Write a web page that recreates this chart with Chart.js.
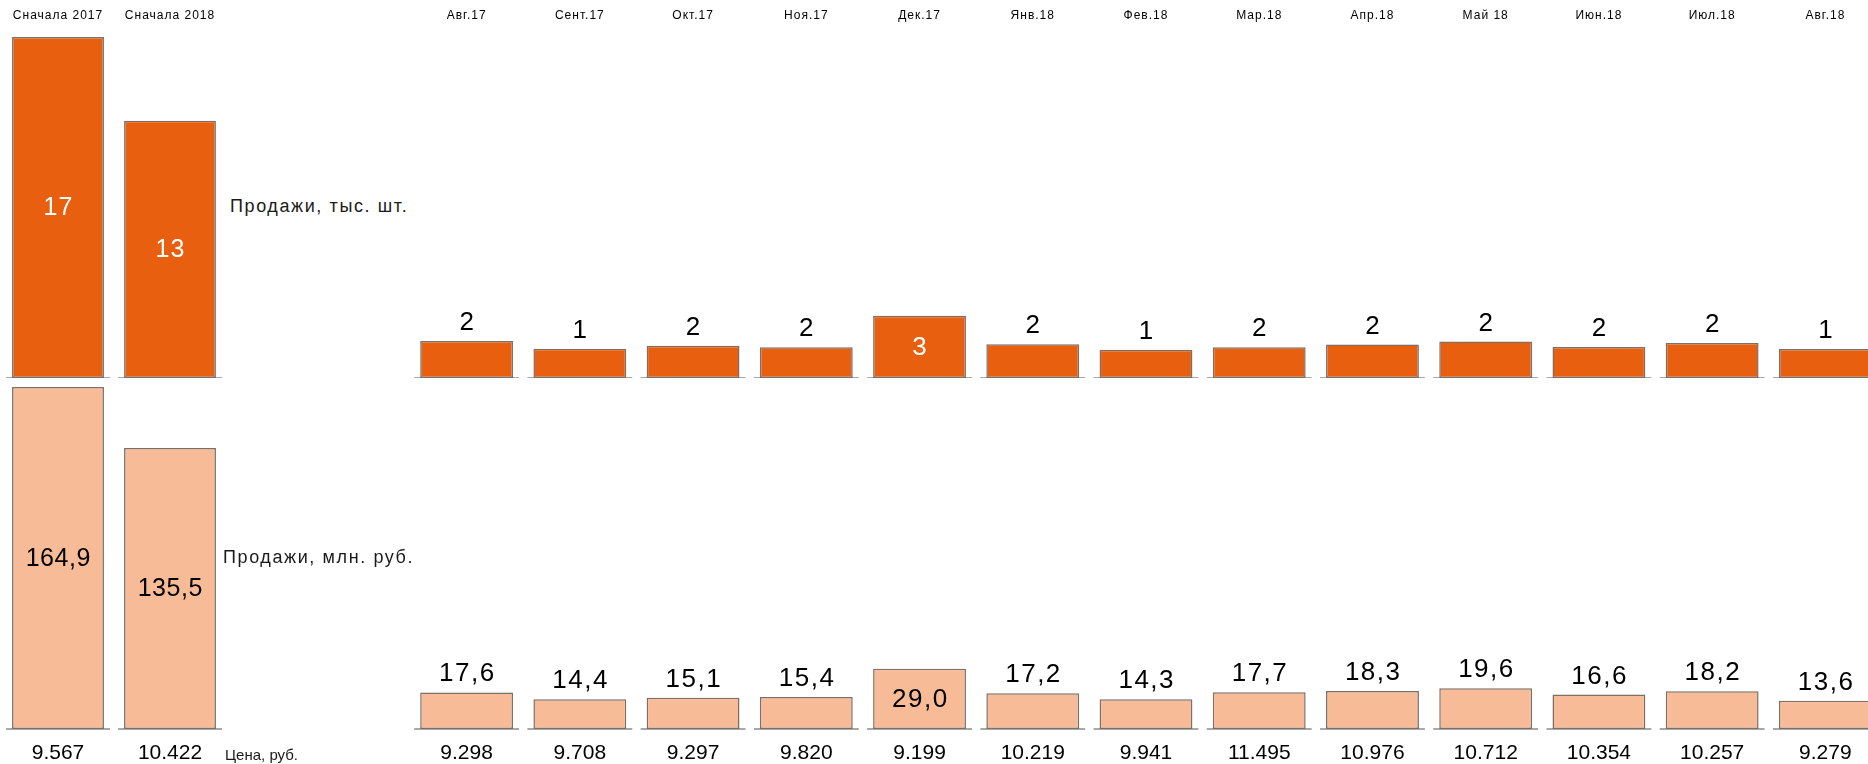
<!DOCTYPE html>
<html lang="ru">
<head>
<meta charset="UTF-8">
<title>Продажи</title>
<script src="https://cdn.jsdelivr.net/npm/chart.js"></script>
<style>
    body {
        margin: 0;
        width: 1868px;
        height: 764px;
        overflow: hidden;
        position: relative;
        background: #fff;
        font-family: 'Liberation Sans', Arial, sans-serif;
        color: #1a1a1a;
    }
    .panel { position: absolute; }
    .side {
        position: absolute;
        white-space: nowrap;
        font-size: 18px;
        letter-spacing: 1.6px;
        line-height: 20px;
    }
</style>
</head>
<body>
<div class="panel" style="left:2px;top:0;width:224px;height:378px"><canvas id="leftTop"></canvas></div>
<div class="panel" style="left:2px;top:387px;width:224px;height:377px"><canvas id="leftBottom"></canvas></div>
<div class="panel" style="left:410px;top:0;width:1472px;height:378px"><canvas id="rightTop"></canvas></div>
<div class="panel" style="left:410px;top:387px;width:1472px;height:377px"><canvas id="rightBottom"></canvas></div>

<div class="side" style="left:230px;top:196px">Продажи, тыс. шт.</div>
<div class="side" style="left:223px;top:547px">Продажи, млн. руб.</div>
<div class="side" style="left:225px;top:745px;font-size:15px;letter-spacing:0">Цена, руб.</div>

<script>
// итоги с начала года
const totalLabels = ['Сначала 2017', 'Сначала 2018'];
const totalUnits = [17.24, 13.0];       // тыс. шт.
const totalRevenue = [164.9, 135.5];    // млн. руб.
const totalPrices = ['9.567', '10.422'];

// по месяцам
const months = ['Авг.17', 'Сент.17', 'Окт.17', 'Ноя.17', 'Дек.17', 'Янв.18', 'Фев.18',
                'Мар.18', 'Апр.18', 'Май 18', 'Июн.18', 'Июл.18', 'Авг.18'];
const monthUnits = [1.87, 1.48, 1.63, 1.56, 3.15, 1.70, 1.43, 1.55, 1.69, 1.84, 1.57, 1.77, 1.47];
const monthRevenue = [17.6, 14.4, 15.1, 15.4, 29.0, 17.2, 14.3, 17.7, 18.3, 19.6, 16.6, 18.2, 13.6];
const monthPrices = ['9.298', '9.708', '9.297', '9.820', '9.199', '10.219', '9.941',
                     '11.495', '10.976', '10.712', '10.354', '10.257', '9.279'];

const ORANGE = '#E8600F';
const SALMON = '#F8BB97';
const BORDER = '#7d6e66';

const unitsMax = Math.max(...totalUnits);
const revenueMax = Math.max(...totalRevenue);

const fmtUnits = v => String(Math.round(v));
const fmtRevenue = v => v.toFixed(1).replace('.', ',');

// короткая серая линия оси под каждым столбцом
const baseSegments = {
    id: 'baseSegments',
    beforeDatasetsDraw(chart) {
        const ctx = chart.ctx;
        ctx.save();
        ctx.strokeStyle = '#a8a8a8';
        ctx.lineWidth = 2;
        chart.getDatasetMeta(0).data.forEach(bar => {
            const p = bar.getProps(['x', 'base', 'width'], true);
            ctx.beginPath();
            ctx.moveTo(p.x - p.width / 2 - 6, p.base);
            ctx.lineTo(p.x + p.width / 2 + 6, p.base);
            ctx.stroke();
        });
        ctx.restore();
    }
};

// подписи значений
const valueLabels = {
    id: 'valueLabels',
    afterDatasetsDraw(chart, args, opts) {
        const ctx = chart.ctx;
        const values = chart.data.datasets[0].data;
        const maxV = Math.max(...values);
        const ls = opts.letterSpacing || 0;
        ctx.save();
        ctx.letterSpacing = ls + 'px';
        ctx.font = opts.font;
        ctx.textAlign = 'center';
        chart.getDatasetMeta(0).data.forEach((bar, i) => {
            const v = values[i];
            const text = opts.format(v);
            const x = bar.x + ls / 2;
            if (opts.allInside || v === maxV) {
                ctx.fillStyle = opts.insideColor;
                ctx.textBaseline = 'middle';
                ctx.fillText(text, x, (bar.y + bar.base) / 2 + 1);
            } else {
                ctx.fillStyle = '#000';
                ctx.textBaseline = 'alphabetic';
                ctx.fillText(text, x, bar.y - 11);
            }
        });
        ctx.restore();
    }
};

const spacing = {
    id: 'spacing',
    beforeDraw(chart) { chart.ctx.letterSpacing = chart.options.plugins.spacing.value; }
};

function panel(id, labels, values, cfg) {
    return new Chart(document.getElementById(id), {
        type: 'bar',
        data: {
            labels: labels,
            datasets: [{
                data: values,
                backgroundColor: cfg.color,
                borderColor: BORDER,
                borderWidth: 1.5,
                borderSkipped: false,
                barPercentage: 0.82,
                categoryPercentage: 1
            }]
        },
        options: {
            responsive: true,
            maintainAspectRatio: false,
            animation: false,
            layout: { padding: 0 },
            plugins: {
                legend: { display: false },
                tooltip: { enabled: false },
                spacing: { value: cfg.spacing },
                valueLabels: {
                    font: cfg.labelFont,
                    letterSpacing: cfg.labelSpacing,
                    format: cfg.format,
                    allInside: cfg.allInside,
                    insideColor: cfg.insideColor
                }
            },
            scales: {
                x: {
                    position: cfg.axisPos,
                    grid: { display: false, drawTicks: false },
                    border: { display: false },
                    ticks: {
                        autoSkip: false,
                        maxRotation: 0,
                        padding: cfg.tickPad,
                        color: '#000',
                        font: cfg.tickFont,
                        callback: cfg.tickText
                    },
                    afterFit: s => { s.height = cfg.axisHeight; }
                },
                y: { display: false, min: 0, max: cfg.max }
            }
        },
        plugins: [spacing, baseSegments, valueLabels]
    });
}

const topAxis = {
    axisPos: 'top', axisHeight: 37, tickPad: 14, spacing: '1px',
    tickFont: { family: "'Liberation Sans', Arial, sans-serif", size: 12 },
    max: unitsMax, color: ORANGE, format: fmtUnits, insideColor: '#fff'
};

panel('leftTop', totalLabels, totalUnits, Object.assign({}, topAxis, {
    allInside: true,
    labelFont: "25px 'Liberation Sans', Arial, sans-serif",
    labelSpacing: 1,
    tickText: function(v, i) { return totalLabels[i]; }
}));
panel('rightTop', months, monthUnits, Object.assign({}, topAxis, {
    allInside: false,
    labelFont: "26px 'Liberation Sans', Arial, sans-serif",
    labelSpacing: 1.5,
    tickText: function(v, i) { return months[i]; }
}));

const bottomAxis = {
    axisPos: 'bottom', axisHeight: 35, tickPad: 12, spacing: '0px',
    tickFont: { family: "'Liberation Sans', Arial, sans-serif", size: 21 },
    max: revenueMax, color: SALMON, format: fmtRevenue, insideColor: '#000'
};

panel('leftBottom', totalLabels, totalRevenue, Object.assign({}, bottomAxis, {
    allInside: true,
    labelFont: "25px 'Liberation Sans', Arial, sans-serif",
    labelSpacing: 0.5,
    tickText: function(v, i) { return totalPrices[i]; }
}));
panel('rightBottom', months, monthRevenue, Object.assign({}, bottomAxis, {
    allInside: false,
    labelFont: "26px 'Liberation Sans', Arial, sans-serif",
    labelSpacing: 1.5,
    tickText: function(v, i) { return monthPrices[i]; }
}));
</script>
</body>
</html>
